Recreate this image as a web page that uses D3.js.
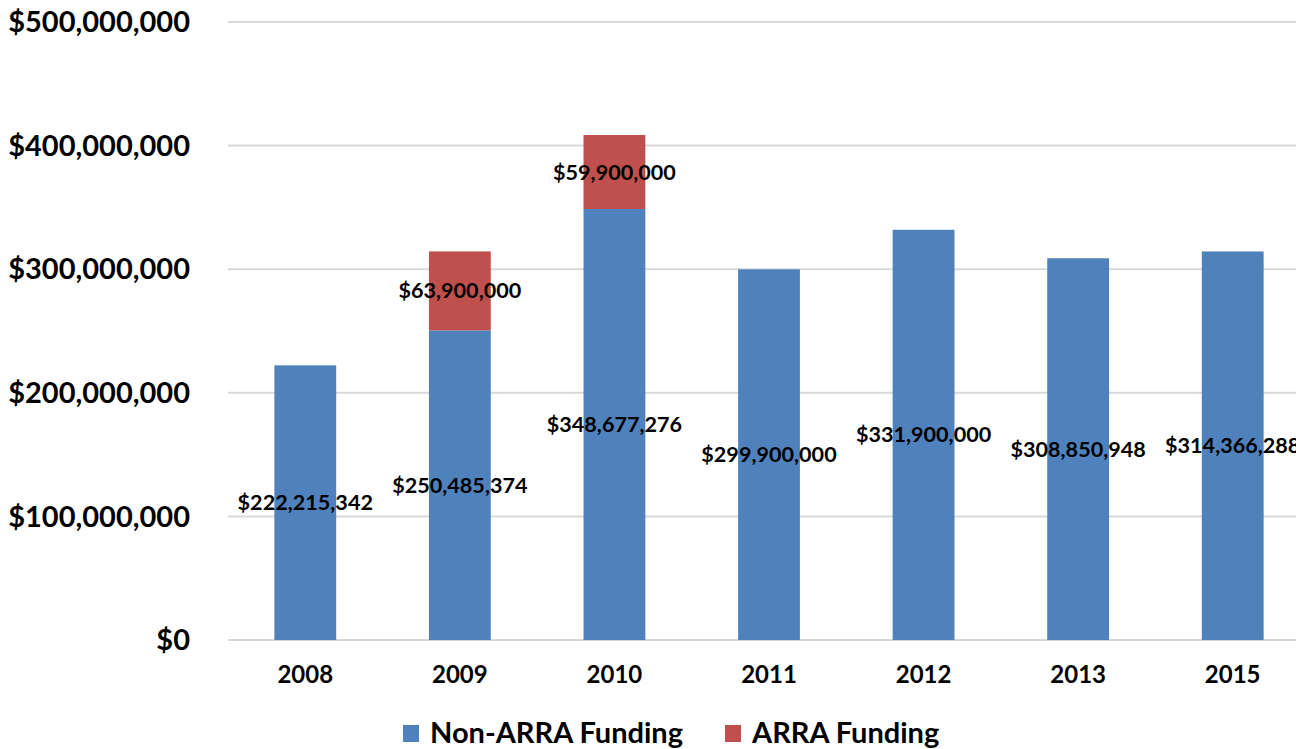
<!DOCTYPE html>
<html><head><meta charset="utf-8">
<script src="https://cdn.jsdelivr.net/npm/d3@7"></script>
<style>body{margin:0;background:#fff}svg{display:block}text{font-family:Lato,"Open Sans",sans-serif;font-weight:700;fill:#000}</style>
</head><body>
<svg id="c" width="1296" height="749"></svg>
<script>
const years = ["2008","2009","2010","2011","2012","2013","2015"];
const nonArra = [222215342, 250485374, 348677276, 299900000, 331900000, 308850948, 314366288];
const arra = [0, 63900000, 59900000, 0, 0, 0, 0];
const yTicks = [0, 100000000, 200000000, 300000000, 400000000, 500000000];
const seriesNames = ["Non-ARRA Funding", "ARRA Funding"];
const colors = ["#4F81BD", "#C0504D"];

const svg = d3.select("#c");
const x = d3.scaleBand().domain(years).range([228, 1310]).paddingInner(0.6).paddingOuter(0.3);
const y = d3.scaleLinear().domain([0, 500000000]).range([640, 22]);
const fmt = v => "$" + d3.format(",")(v);

// gridlines
svg.append("g").selectAll("line").data(yTicks).join("line")
  .attr("x1", 228).attr("x2", 1296)
  .attr("y1", d => y(d)).attr("y2", d => y(d))
  .attr("stroke", "#D9D9D9").attr("stroke-width", 2);

// y labels
svg.append("g").selectAll("text").data(yTicks).join("text")
  .attr("x", 190).attr("y", d => y(d)).attr("dy", "0.35em")
  .attr("text-anchor", "end").attr("font-size", 29).attr("font-weight", 800)
  .text(d => fmt(d));

// stacked data
const rows = years.map((yr, i) => ({year: yr, non: nonArra[i], arra: arra[i]}));
const stack = d3.stack().keys(["non", "arra"])(rows);

const g = svg.append("g");
stack.forEach((s, si) => {
  g.append("g").selectAll("rect").data(s.filter(d => d[1] > d[0])).join("rect")
    .attr("x", d => x(d.data.year)).attr("width", x.bandwidth())
    .attr("y", d => y(d[1])).attr("height", d => y(d[0]) - y(d[1]))
    .attr("fill", colors[si]);
});
stack.forEach((s, si) => {
  g.append("g").selectAll("text").data(s.filter(d => d[1] > d[0])).join("text")
    .attr("x", d => x(d.data.year) + x.bandwidth() / 2)
    .attr("y", d => y((d[0] + d[1]) / 2)).attr("dy", "0.35em")
    .attr("text-anchor", "middle").attr("font-size", 21.6).attr("font-weight", 800)
    .text(d => fmt(d[1] - d[0]));
});

// x labels
svg.append("g").selectAll("text").data(years).join("text")
  .attr("x", d => x(d) + x.bandwidth() / 2).attr("y", 675).attr("dy", "0.35em")
  .attr("text-anchor", "middle").attr("font-size", 24).attr("font-weight", 800)
  .text(d => d);

// legend
const legX = [403, 725];
const leg = svg.append("g").selectAll("g").data(seriesNames).join("g")
  .attr("transform", (d, i) => `translate(${legX[i]},733)`);
leg.append("rect").attr("x", 0).attr("y", -8).attr("width", 16).attr("height", 17)
  .attr("fill", (d, i) => colors[i]);
leg.append("text").attr("x", 27).attr("dy", "0.35em").attr("font-size", 29).attr("font-weight", 800).text(d => d);
</script>
</body></html>
